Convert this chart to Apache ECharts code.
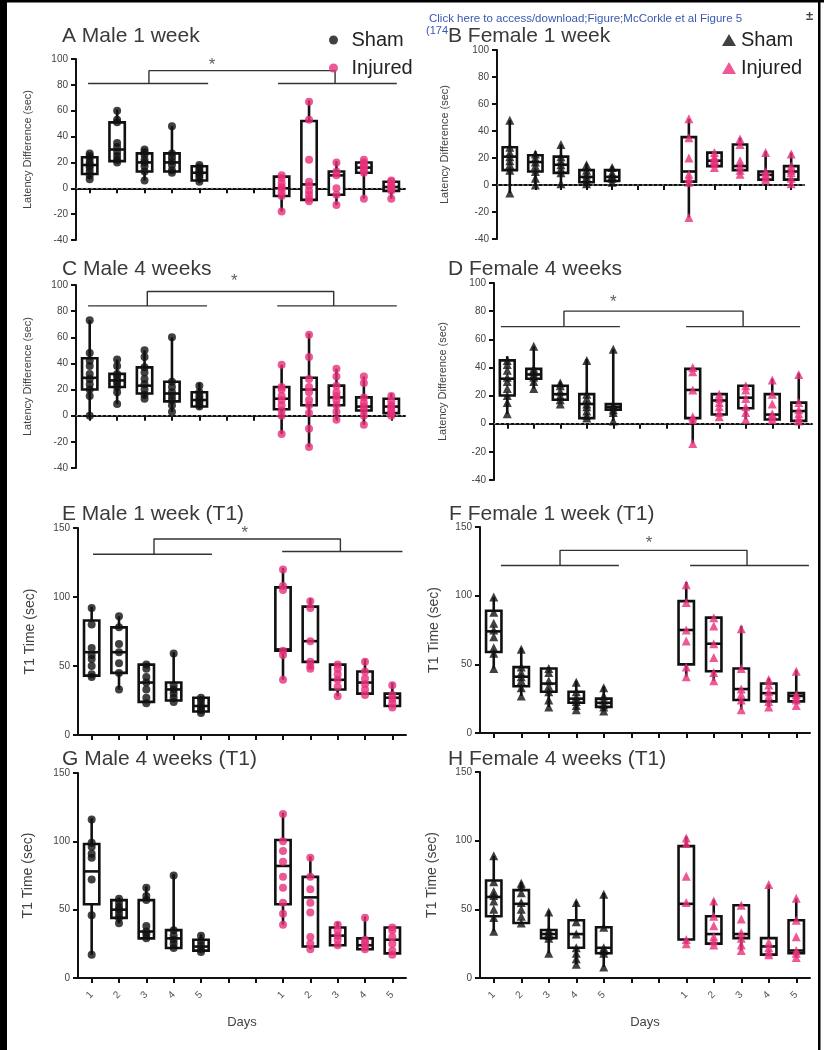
<!DOCTYPE html>
<html><head><meta charset="utf-8">
<script src="https://cdn.jsdelivr.net/npm/echarts/dist/echarts.min.js"></script>
<style>html,body{margin:0;padding:0;background:#fff}#c{width:824px;height:1050px}</style>
</head><body><div id="c"></div>
<script>
// x-axis tick labels (5 sham days, 2 gaps, 5 injured days)
const dayLabels = ['1','2','3','4','5','','','1','2','3','4','5'];
const shamIdx = [0,1,2,3,4];
const injIdx = [7,8,9,10,11];

// Box stats per day: [min, Q1, median, Q3, max]; points per day
// A Male 1 week
const aShamBox = [[7,11,18,24,27],[20,21,30,51,61],[6,13,20,27,30],[12,13,20,27,48],[4,6,12,17,18]];
const aShamPts = [[7,10,13,16,18,20,23,25,27],[20,22,25,28,32,35,51,53,60],[6,13,17,20,22,26,28,30],[12,14,18,21,24,27,48],[5,8,10,12,14,16,18]];
const aInjBox = [[-18,-6,0,9,10],[-10,-9,3,52,68],[-13,-5,10,13,21],[-8,12,16,20,22],[-8,-2,1,5,6]];
const aInjPts = [[-18,-6,-3,0,1,4,8,10],[-10,-8,-5,-2,2,5,22,53,67],[-13,-5,0,10,13,20],[-8,12,14,16,18,20,22],[-8,-2,0,1,3,5,6]];
// B Female 1 week
const bShamBox = [[-6,11,21,28,48],[0,10,17,22,25],[1,9,15,21,30],[1,2,6,11,16],[2,3,6,11,14]];
const bShamPts = [[-6,11,15,18,21,24,28,48],[0,5,10,14,17,20,23],[1,9,12,15,18,21,30],[1,3,6,8,11,15],[2,5,7,9,13]];
const bInjBox = [[-24,2.5,10,35.5,49],[13,14,18,24,24],[8,11,14,30,35],[4,4,7.5,10,25],[1,4,10,14,24]];
const bInjPts = [[-24,2,5,8,20,35,49],[13,16,18,19,21,24],[8,11,14,18,30,34],[4,6,8,10,24],[1,5,9,11,14,23]];
// C Male 4 weeks
const cShamBox = [[0,20,29,44,73],[9,22,27,32,43],[13,17,23,37,50],[3,11,17,26,60],[5,7,12,18,25]];
const cShamPts = [[0,15,20,24,28,32,38,42,48,73],[9,18,22,25,27,30,32,38,43],[13,16,20,24,28,33,37,45,50],[3,8,12,15,18,22,26,60],[7,9,11,13,15,18,23]];
const cInjBox = [[-14,5,13,22,39],[-24,8,20,29,63],[-3,8,14,23,36],[-7,4,7,14,30],[-1,2,7,13,17]];
const cInjPts = [[-14,0,4,8,12,15,20,22,39],[-24,-10,2,8,12,18,22,28,45,62],[-3,3,8,12,15,18,23,30,36],[-7,0,4,7,10,14,25,30],[0,2,4,6,8,11,15]];
// D Female 4 weeks
const dShamBox = [[7,20,32,45,48],[25,32,35,39,55],[16,17,21,27,30],[4,4,14,21,46],[2,10,12,14,53]];
const dShamPts = [[7,15,20,25,30,33,38,42,45],[25,30,33,35,37,39,55],[14,17,20,23,27,29],[4,6,9,12,14,18,21,45],[2,8,10,12,13,53]];
const dInjBox = [[-14,4,24,39,40],[5,6.5,16.5,21,21],[3,11,18.5,27,28],[3,3,6.5,21,32],[2,2,9,15,36]];
const dInjPts = [[-14,3,5,24,37,40],[5,8,12,15,18,21],[3,8,12,18,24,27],[3,5,7,14,21,31],[2,4,7,10,15,35]];
// E Male 1 week (T1)
const eShamBox = [[42,43,60,83,93],[33,45,60,78,86],[23,24,38,51,52],[24,25,33,38,60],[16,17,21,27,28]];
const eShamPts = [[42,44,50,55,58,63,80,92],[33,45,52,60,66,78,86],[23,27,33,38,42,48,51],[24,27,30,33,36,59],[16,18,20,22,25,27]];
const eInjBox = [[40,61,62,107,121],[48,53,68,93,99],[28,33,40,51,52],[29,30,38,46,55],[20,21,27,30,38]];
const eInjPts = [[40,58,61,105,108,120],[48,50,53,68,92,97],[28,35,40,44,48,51],[29,33,37,41,46,53],[20,23,26,29,36]];
// F Female 1 week (T1)
const fShamBox = [[47,59,74,89,99],[27,34,41,48,62],[19,30,36,47,48],[17,22,25,30,38],[16,19,22,25,34]];
const fShamPts = [[47,58,62,70,75,80,88,99],[27,33,38,41,44,48,61],[19,24,30,34,38,44,47],[17,20,23,26,30,37],[16,19,21,24,27,33]];
const fInjBox = [[41,50,75,96,110],[38,45,65,84,85],[17,24,32,47,78],[19,23,29,36,40],[21,23,27,29,46]];
const fInjPts = [[41,48,67,75,95,108],[38,44,55,65,78,84],[17,24,28,32,47,76],[19,23,27,30,35,39],[20,24,26,28,45]];
// G Male 4 weeks (T1)
const gShamBox = [[17,54,78,98,117],[40,44,50,57,59],[29,29,34,57,67],[22,22,29,35,76],[19,20,23,28,32]];
const gShamPts = [[17,46,72,88,91,96,99,116],[40,44,47,50,52,55,58],[29,32,34,38,57,60,66],[22,25,28,31,35,75],[19,21,24,27,31]];
const gInjBox = [[39,54,82,101,121],[21,23,59,74,89],[23,24,31,37,41],[21,21,24,29,45],[17,18,28,37,38]];
const gInjPts = [[39,47,55,66,74,85,93,100,120],[21,25,30,48,55,65,74,88],[24,28,31,35,39],[21,23,26,28,44],[17,20,25,30,35,37]];
// H Female 4 weeks (T1)
const hShamBox = [[34,45,59,71,89],[40,40,54,64,70],[18,29,32,35,49],[10,22,32,42,56],[8,18,22,37,62]];
const hShamPts = [[34,44,50,56,60,63,70,89],[40,45,50,55,62,67,69],[18,29,31,33,35,48],[10,14,18,22,32,41,55],[8,18,20,22,37,61]];
const hInjBox = [[25,28,54,96,103],[24,25,32,45,57],[20,29,32,53,54],[17,17,23,29,68],[15,18,20,42,58]];
const hInjPts = [[25,28,55,74,98,102],[24,27,30,38,45,56],[20,24,29,33,43,53],[17,19,22,26,68],[15,18,20,30,42,58]];

// significance brackets in group-axis units (0..12): [x0,x1,x2,x3,xa,xb,yLeft,yRight,yTop], star [x,y]
const aBracket = [0.44,4.82,7.37,11.7,2.66,9.45,81,81,91];  const aStar = [4.96,99];
const cBracket = [0.44,4.78,7.34,11.7,2.6,9.4,84,84,95];    const cStar = [5.77,107];
const dBracket = [0.26,4.75,7.25,11.55,2.64,9.4,69,69,80];  const dStar = [4.5,90];
const eBracket = [0.55,4.9,7.47,11.87,2.78,9.6,131,133,142]; const eStar = [6.1,150];
const fBracket = [0.76,5.05,7.64,11.96,2.91,9.71,122,122,133]; const fStar = [6.15,142];

const BLACK = '#111';
const PINK = '#e8307a';

const panels = [
  {title:'A Male 1 week', lat:true, sym:'circle', sb:aShamBox, sp:aShamPts, ib:aInjBox, ip:aInjPts, br:aBracket, st:aStar,
   grid:{left:76,top:59,width:329,height:181}, tpos:[57,21], ng:43, days:false},
  {title:'B Female 1 week', lat:true, sym:'triangle', sb:bShamBox, sp:bShamPts, ib:bInjBox, ip:bInjPts, br:null, st:null,
   grid:{left:497,top:50,width:307,height:189}, tpos:[443,21], ng:47, days:false},
  {title:'C Male 4 weeks', lat:true, sym:'circle', sb:cShamBox, sp:cShamPts, ib:cInjBox, ip:cInjPts, br:cBracket, st:cStar,
   grid:{left:76,top:285,width:329,height:183}, tpos:[57,254], ng:43, days:false},
  {title:'D Female 4 weeks', lat:true, sym:'triangle', sb:dShamBox, sp:dShamPts, ib:dInjBox, ip:dInjPts, br:dBracket, st:dStar,
   grid:{left:494,top:283,width:318,height:197}, tpos:[443,254], ng:46, days:false},
  {title:'E Male 1 week (T1)', lat:false, sym:'circle', sb:eShamBox, sp:eShamPts, ib:eInjBox, ip:eInjPts, br:eBracket, st:eStar,
   grid:{left:78,top:528,width:328,height:207}, tpos:[57,499], ng:41, days:false},
  {title:'F Female 1 week (T1)', lat:false, sym:'triangle', sb:fShamBox, sp:fShamPts, ib:fInjBox, ip:fInjPts, br:fBracket, st:fStar,
   grid:{left:480,top:527,width:330,height:206}, tpos:[444,499], ng:39, days:false},
  {title:'G Male 4 weeks (T1)', lat:false, sym:'circle', sb:gShamBox, sp:gShamPts, ib:gInjBox, ip:gInjPts, br:null, st:null,
   grid:{left:78,top:773,width:328,height:205}, tpos:[57,744], ng:43, days:true},
  {title:'H Female 4 weeks (T1)', lat:false, sym:'triangle', sb:hShamBox, sp:hShamPts, ib:hInjBox, ip:hInjPts, br:null, st:null,
   grid:{left:480,top:772,width:330,height:206}, tpos:[443,744], ng:41, days:true}
];

function boxData(arr, idxs){ return arr.map((b,k)=>[idxs[k]].concat(b)); }
function ptData(arr, idxs){ const out=[]; arr.forEach((vals,k)=>vals.forEach(v=>out.push([idxs[k], v]))); return out; }

function renderBox(params, api){
  const x = api.value(0);
  const pMin = api.coord([x, api.value(1)]);
  const pQ1 = api.coord([x, api.value(2)]);
  const pMed = api.coord([x, api.value(3)]);
  const pQ3 = api.coord([x, api.value(4)]);
  const pMax = api.coord([x, api.value(5)]);
  const bw = api.size([1,0])[0] * 0.56;
  const cx = pQ1[0];
  const st = {stroke:BLACK, lineWidth:2.6, fill:null};
  return {type:'group', children:[
    {type:'line', shape:{x1:cx,y1:pMin[1],x2:cx,y2:pQ1[1]}, style:st},
    {type:'line', shape:{x1:cx,y1:pQ3[1],x2:cx,y2:pMax[1]}, style:st},
    {type:'rect', shape:{x:cx-bw/2,y:pQ3[1],width:bw,height:pQ1[1]-pQ3[1]}, style:{stroke:BLACK,lineWidth:2.6,fill:'#fff'}},
    {type:'line', shape:{x1:cx-bw/2,y1:pMed[1],x2:cx+bw/2,y2:pMed[1]}, style:st}
  ]};
}

const grids=[], xAxes=[], yAxes=[], series=[];
const titles = [
  {text:'Click here to access/download;Figure;McCorkle et al Figure 5', left:424, top:8, textStyle:{fontSize:11.5, fontWeight:'normal', color:'#3a58b0'}},
  {text:'(174', left:421, top:20, textStyle:{fontSize:11, fontWeight:'normal', color:'#3a58b0'}},
  {text:'±', left:801, top:5, textStyle:{fontSize:13, fontWeight:'bold', color:'#444'}}
];

panels.forEach((p,i)=>{
  grids.push(Object.assign({outerBoundsMode:'none', containLabel:false}, p.grid));
  titles.push({text:p.title, left:p.tpos[0], top:p.tpos[1], textStyle:{fontSize:21, fontWeight:'normal', color:'#3a3a3a'}});
  xAxes.push({type:'category', gridIndex:i, data:dayLabels, boundaryGap:true,
    axisLine:{show:true, lineStyle:{color:BLACK, width:2}},
    axisTick:{show:true, alignWithLabel:true, interval:0, length:5, lineStyle:{color:BLACK, width:2}},
    axisLabel:{show:p.days, interval:0, rotate:45, fontSize:10, color:'#555', margin:15},
    name:p.days?'Days':'', nameLocation:'middle', nameGap:38,
    nameTextStyle:{fontSize:13, color:'#444'}, splitLine:{show:false}});
  xAxes.push({type:'value', gridIndex:i, min:0, max:12, show:false});
  yAxes.push({type:'value', gridIndex:i, min:p.lat?-40:0, max:p.lat?100:150, interval:p.lat?20:50,
    name:p.lat?'Latency Difference (sec)':'T1 Time (sec)', nameLocation:'middle', nameGap:p.ng,
    nameTextStyle:{fontSize:p.lat?11:14, color:'#444'},
    axisLine:{show:true, lineStyle:{color:BLACK, width:2}},
    axisTick:{show:true, length:5, lineStyle:{color:BLACK, width:2}},
    axisLabel:{fontSize:10, color:'#444', margin:8},
    splitLine:{show:false}});
  const cxi = 2*i, vxi = 2*i+1;
  if (p.lat){
    series.push({type:'line', xAxisIndex:vxi, yAxisIndex:i, data:[[0,0],[12,0]], symbol:'none', silent:true,
      lineStyle:{type:[2,3], color:'#a89a9a', width:1}, z:1});
  }
  series.push({type:'custom', xAxisIndex:cxi, yAxisIndex:i, data:boxData(p.sb, shamIdx), encode:{x:0,y:[1,2,3,4,5]}, renderItem:renderBox, silent:true});
  series.push({type:'custom', xAxisIndex:cxi, yAxisIndex:i, data:boxData(p.ib, injIdx), encode:{x:0,y:[1,2,3,4,5]}, renderItem:renderBox, silent:true});
  const sz = p.sym==='circle'?8:9;
  series.push({name:'Sham', type:'scatter', xAxisIndex:cxi, yAxisIndex:i, data:ptData(p.sp, shamIdx), symbol:p.sym, symbolSize:sz, itemStyle:{color:BLACK}, silent:true});
  series.push({name:'Injured', type:'scatter', xAxisIndex:cxi, yAxisIndex:i, data:ptData(p.ip, injIdx), symbol:p.sym, symbolSize:sz, itemStyle:{color:PINK}, silent:true});
  if (p.br){
    const b = p.br;
    const ls = {color:'#333', width:1.4};
    [[[b[0],b[6]],[b[1],b[6]]], [[b[2],b[7]],[b[3],b[7]]], [[b[4],b[6]],[b[4],b[8]],[b[5],b[8]],[b[5],b[7]]]].forEach(d=>{
      series.push({type:'line', xAxisIndex:vxi, yAxisIndex:i, data:d, symbol:'none', lineStyle:ls, clip:false, silent:true});
    });
    series.push({type:'scatter', xAxisIndex:vxi, yAxisIndex:i, data:[p.st], symbolSize:1, itemStyle:{color:'rgba(0,0,0,0)'},
      label:{show:true, formatter:'*', position:'inside', fontSize:17, color:'#333', offset:[0,5]}, clip:false, silent:true});
  }
});

const chart = echarts.init(document.getElementById('c'), null, {renderer:'canvas'});
chart.setOption({
  animation:false,
  backgroundColor:'#fff',
  textStyle:{fontFamily:'Liberation Sans, Arial, sans-serif'},
  title:titles,
  legend:[
    {data:[{name:'Sham',icon:'circle'},{name:'Injured',icon:'circle'}], orient:'vertical', left:324, top:25,
     itemWidth:26, itemHeight:9, itemGap:8, selectedMode:false, textStyle:{fontSize:20, color:'#222', lineHeight:20}},
    {data:[{name:'Sham',icon:'triangle'},{name:'Injured',icon:'triangle'}], orient:'vertical', left:717, top:25,
     itemWidth:14, itemHeight:12, itemGap:8, selectedMode:false, textStyle:{fontSize:20, color:'#222', lineHeight:20}}
  ],
  grid:grids, xAxis:xAxes, yAxis:yAxes, series:series,
  graphic:[
    {type:'rect', shape:{x:0,y:0,width:7,height:1050}, style:{fill:'#000'}, z:100},
    {type:'rect', shape:{x:0,y:0,width:824,height:2.5}, style:{fill:'#000'}, z:100},
    {type:'rect', shape:{x:818,y:0,width:2.5,height:1050}, style:{fill:'#000'}, z:100}
  ]
});
</script></body></html>
